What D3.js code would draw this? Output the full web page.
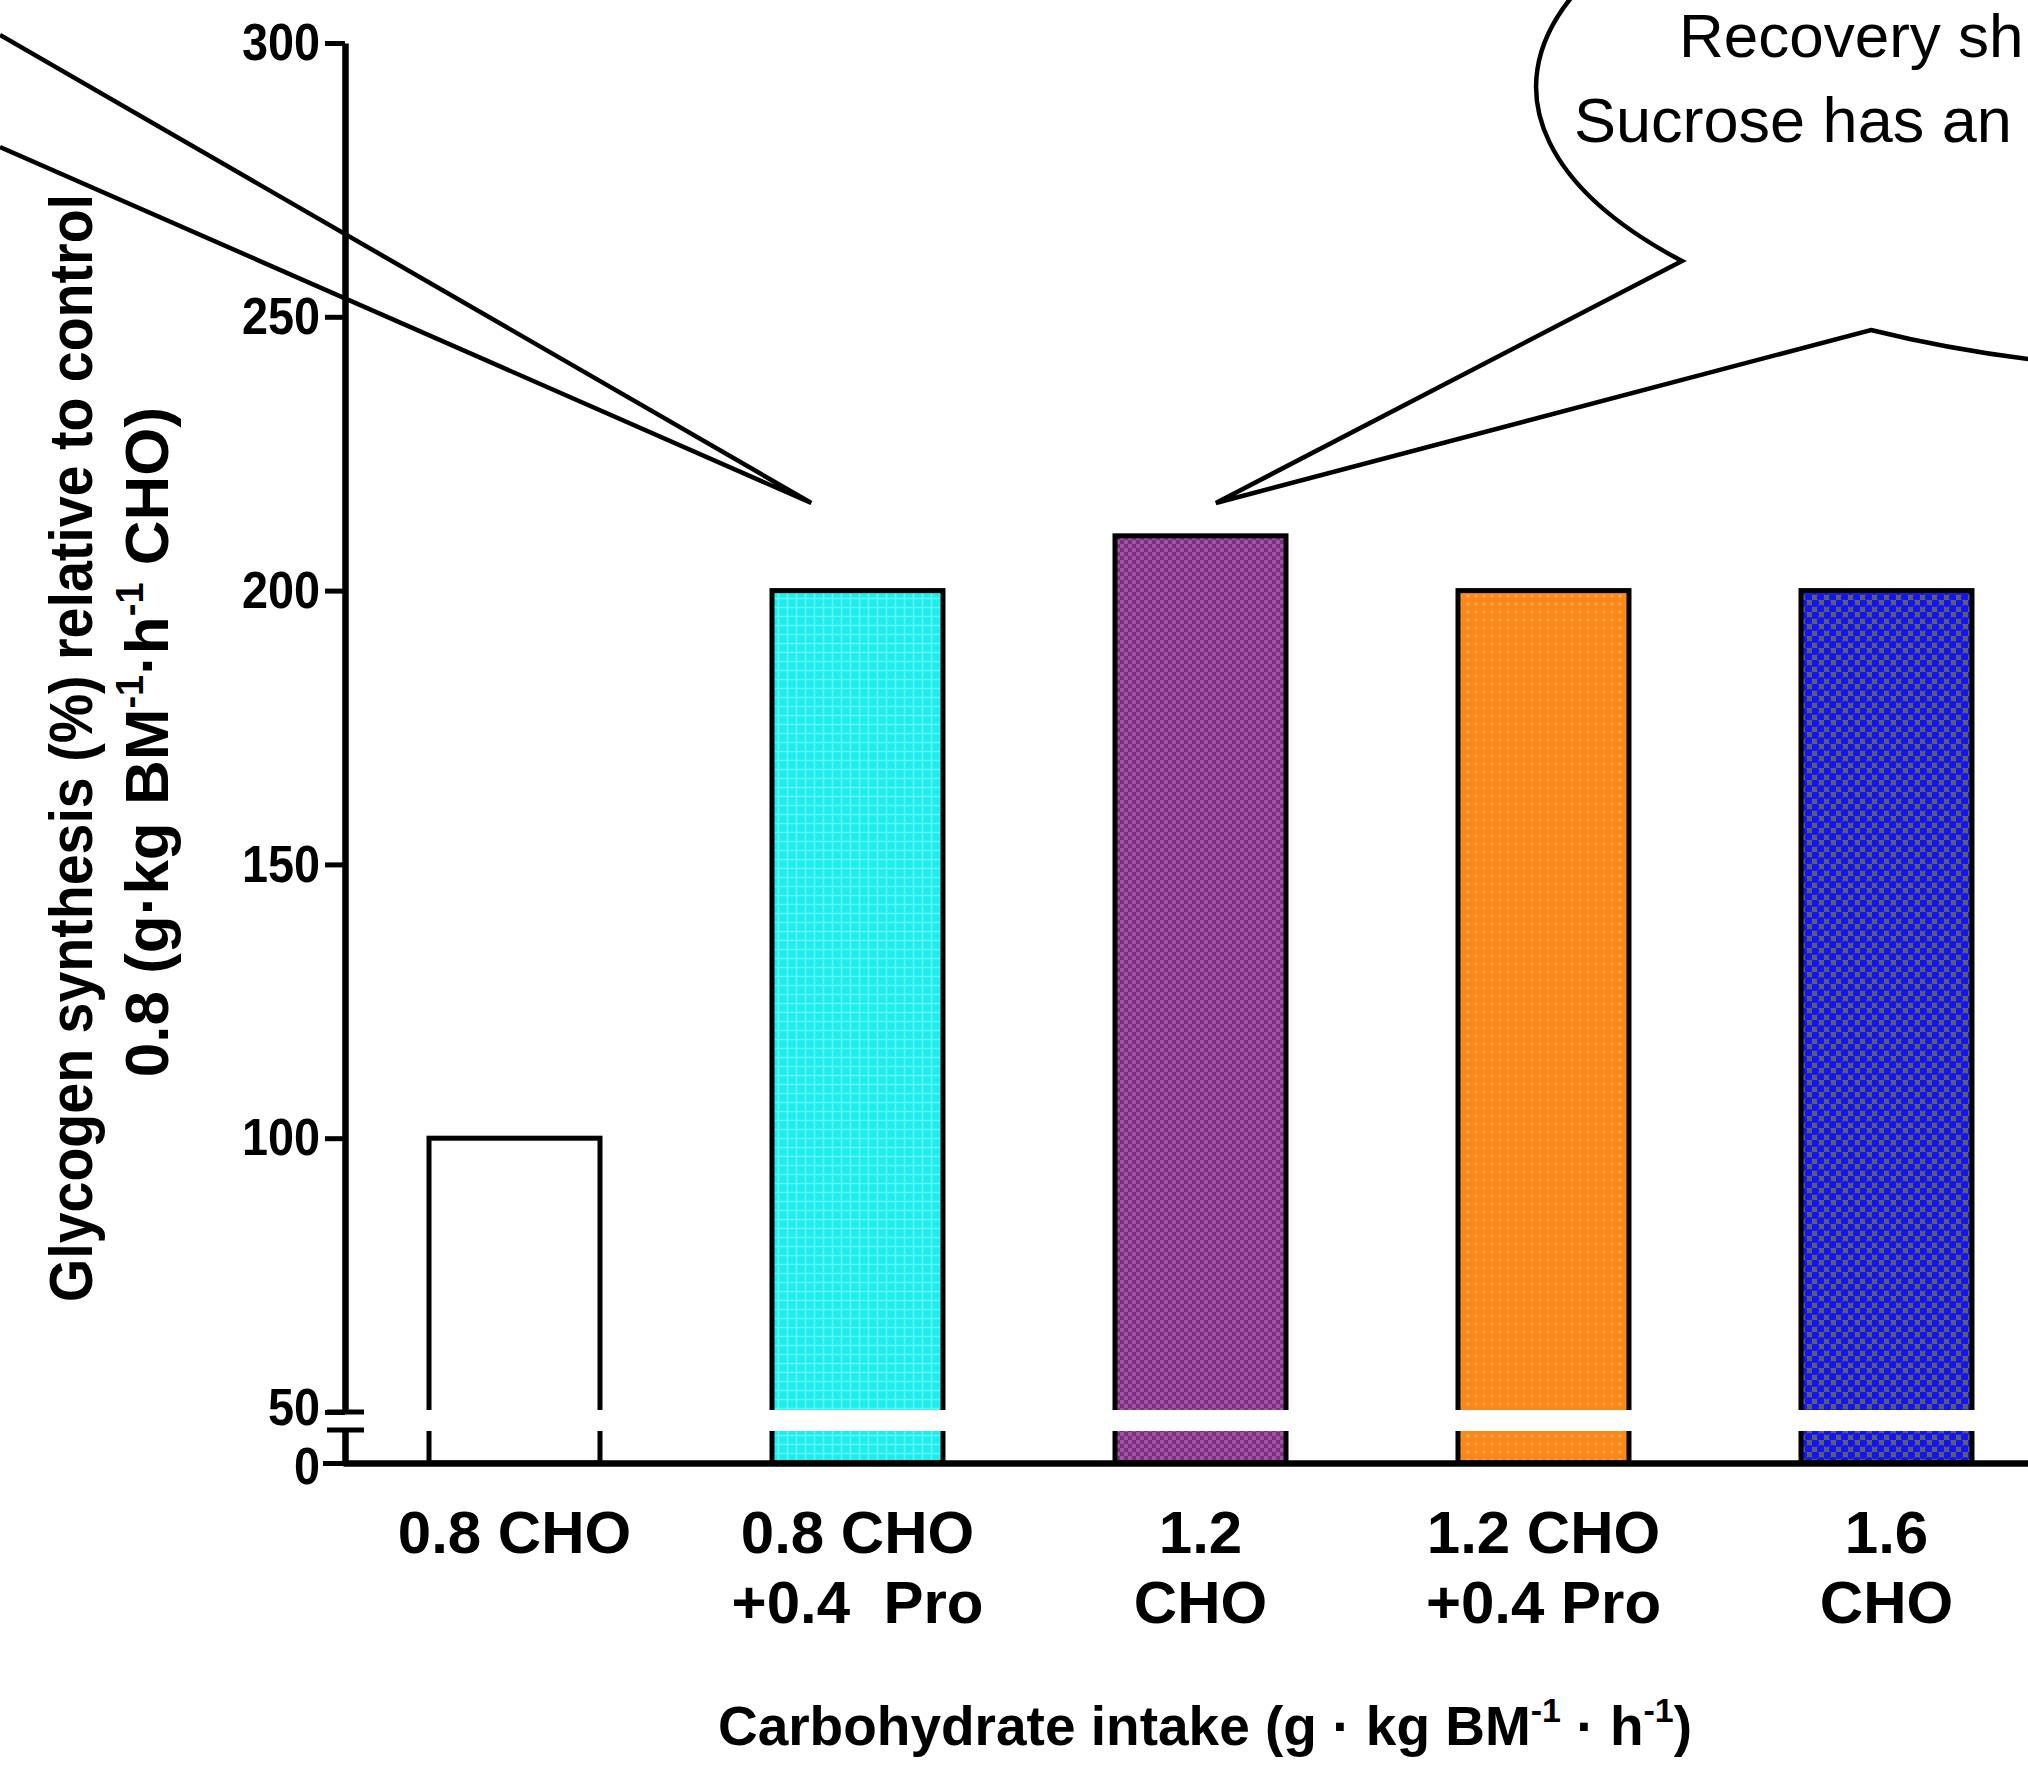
<!DOCTYPE html>
<html>
<head>
<meta charset="utf-8">
<script src="https://cdn.jsdelivr.net/npm/d3@7"></script>
<style>
  html, body { margin: 0; padding: 0; background: #ffffff; }
  svg { display: block; }
</style>
</head>
<body>
<script>
// ---------------- DATA ----------------
const categories = ["0.8 CHO", "0.8 CHO +0.4 Pro", "1.2 CHO", "1.2 CHO +0.4 Pro", "1.6 CHO"];
const labelLines = [["0.8 CHO"], ["0.8 CHO", "+0.4  Pro"], ["1.2", "CHO"], ["1.2 CHO", "+0.4 Pro"], ["1.6", "CHO"]];
const values = [100, 200, 210, 200, 200];
const upperTicks = [50, 100, 150, 200, 250, 300];
const lowerTicks = [0];
const barFills = ["#ffffff", "url(#pCyan)", "url(#pPurple)", "url(#pOrange)", "url(#pBlue)"];

// ---------------- LAYOUT ----------------
const W = 2028, H = 1766;
const FONT = "'Liberation Sans', Arial, Helvetica, sans-serif";
const axisX = 345;

const svg = d3.select("body").append("svg")
  .attr("width", W).attr("height", H)
  .attr("viewBox", `0 0 ${W} ${H}`);

// ---------------- PATTERNS ----------------
const defs = svg.append("defs");
(function () {
  const c = defs.append("pattern").attr("id", "pCyan").attr("patternUnits", "userSpaceOnUse")
    .attr("width", 9).attr("height", 9);
  c.append("rect").attr("width", 9).attr("height", 9).attr("fill", "#1deded");
  c.append("path").attr("d", "M0 4.5H9M4.5 0V9").attr("stroke", "#5ff6f6").attr("stroke-width", 1.6);

  const p = defs.append("pattern").attr("id", "pPurple").attr("patternUnits", "userSpaceOnUse")
    .attr("width", 8).attr("height", 8);
  p.append("rect").attr("width", 8).attr("height", 8).attr("fill", "#7a2f7c");
  p.append("circle").attr("cx", 2).attr("cy", 2).attr("r", 2.3).attr("fill", "#a253a5");
  p.append("circle").attr("cx", 6).attr("cy", 6).attr("r", 2.3).attr("fill", "#a253a5");

  const o = defs.append("pattern").attr("id", "pOrange").attr("patternUnits", "userSpaceOnUse")
    .attr("width", 8).attr("height", 8);
  o.append("rect").attr("width", 8).attr("height", 8).attr("fill", "#fb8818");
  o.append("circle").attr("cx", 4).attr("cy", 4).attr("r", 1.8).attr("fill", "#ffa64a");

  const b = defs.append("pattern").attr("id", "pBlue").attr("patternUnits", "userSpaceOnUse")
    .attr("width", 12).attr("height", 12);
  b.append("rect").attr("width", 12).attr("height", 12).attr("fill", "#5c5e6e");
  b.append("circle").attr("cx", 3).attr("cy", 3).attr("r", 4.1).attr("fill", "#1414f2");
  b.append("circle").attr("cx", 9).attr("cy", 9).attr("r", 4.1).attr("fill", "#1414f2");
})();

// ---------------- SCALES ----------------
const x = d3.scaleBand()
  .domain(categories)
  .range([343, 2058])
  .paddingInner(0.5015)
  .paddingOuter(0.5015 / 2);

const yUp = d3.scaleLinear().domain([50, 300]).range([1412, 43]);
const yLow = d3.scaleLinear().domain([0, 50]).range([1463, 1430]);
const yv = v => (v >= 50 ? yUp(v) : yLow(v));
const base = yLow(0);

// ---------------- ANNOTATIONS (behind) ----------------
const tipL = [x(categories[1]) + x.bandwidth() * 0.23, yUp(216)];
svg.append("path")
  .attr("d", `M0,35 L${tipL[0]},${tipL[1]} L0,147`)
  .attr("fill", "none").attr("stroke", "#000").attr("stroke-width", 4.5)
  .attr("stroke-linejoin", "miter");

const tipR = [x(categories[2]) + x.bandwidth() * 0.59, yUp(216)];
svg.append("path")
  .attr("d", `M1682,261 L${tipR[0]},${tipR[1]} L1871,330 A700,285 0 1 0 1682,261 Z`)
  .attr("fill", "#fff").attr("stroke", "#000").attr("stroke-width", 4.5)
  .attr("stroke-linejoin", "miter");

svg.append("text").attr("x", 1679).attr("y", 57)
  .attr("font-family", FONT).attr("font-size", 62).attr("fill", "#000")
  .text("Recovery sh");
svg.append("text").attr("x", 1574).attr("y", 142)
  .attr("font-family", FONT).attr("font-size", 63).attr("fill", "#000")
  .text("Sucrose has an");

// ---------------- BARS ----------------
const bars = svg.append("g");
bars.selectAll("rect.bar")
  .data(values)
  .join("rect")
  .attr("class", "bar")
  .attr("x", (d, i) => x(categories[i]))
  .attr("y", d => yv(d))
  .attr("width", x.bandwidth())
  .attr("height", d => base - yv(d))
  .attr("fill", (d, i) => barFills[i])
  .attr("stroke", "#000")
  .attr("stroke-width", 5);

// axis break gap across bars
bars.selectAll("rect.gap")
  .data(values)
  .join("rect")
  .attr("class", "gap")
  .attr("x", (d, i) => x(categories[i]) - 6)
  .attr("y", yUp(50) - 2)
  .attr("width", x.bandwidth() + 12)
  .attr("height", yLow(50) - yUp(50) + 3)
  .attr("fill", "#fff");

// ---------------- AXES ----------------
function styleAxis(g, shift) {
  g.attr("font-family", FONT).attr("font-size", 52).attr("font-weight", "bold");
  g.selectAll("path.domain").attr("stroke", "#000").attr("stroke-width", 6.5);
  g.selectAll(".tick line").attr("stroke", "#000").attr("stroke-width", 5);
  g.selectAll(".tick text").attr("fill", "#000")
    .attr("textLength", function () { return this.textContent.length * 26; })
    .attr("lengthAdjust", "spacingAndGlyphs")
    .attr("transform", d => `translate(0,${shift(d)})`);
}

svg.append("g")
  .attr("transform", `translate(${axisX},0)`)
  .call(d3.axisLeft(yUp).tickValues(upperTicks).tickSize(20).tickSizeOuter(0).tickPadding(5).tickFormat(d3.format("d")))
  .call(g => styleAxis(g, d => (d === 50 ? -4 : 0)));

svg.append("g")
  .attr("transform", `translate(${axisX},0)`)
  .call(d3.axisLeft(yLow).tickValues(lowerTicks).tickSize(22).tickSizeOuter(0).tickPadding(3).tickFormat(d3.format("d")))
  .call(g => styleAxis(g, d => 4));

// break marks on the y axis
svg.append("g").selectAll("line")
  .data([yUp(50), yLow(50)])
  .join("line")
  .attr("x1", axisX - 18).attr("x2", axisX + 19)
  .attr("y1", d => d).attr("y2", d => d)
  .attr("stroke", "#000").attr("stroke-width", 5);

// baseline (x axis)
svg.append("g")
  .attr("transform", `translate(0,${base})`)
  .call(d3.axisBottom(x).tickSize(0).tickSizeOuter(0).tickFormat(""))
  .call(g => g.selectAll("path.domain").attr("stroke", "#000").attr("stroke-width", 6.5));

// category labels
const lab = svg.append("g")
  .attr("font-family", FONT).attr("font-size", 60).attr("font-weight", "bold")
  .attr("text-anchor", "middle").attr("fill", "#000");
categories.forEach((c, i) => {
  const cx = x(c) + x.bandwidth() / 2;
  labelLines[i].forEach((ln, j) => {
    lab.append("text").attr("x", cx).attr("y", 1553 + j * 70)
      .style("white-space", "pre").text(ln);
  });
});

// x axis title
const xt = svg.append("text")
  .attr("x", 1205).attr("y", 1745)
  .attr("font-family", FONT).attr("font-size", 55).attr("font-weight", "bold")
  .attr("text-anchor", "middle").attr("fill", "#000");
xt.append("tspan").text("Carbohydrate intake (g \u00B7 kg BM");
xt.append("tspan").attr("font-size", 34).attr("dy", -23).text("-1");
xt.append("tspan").attr("dy", 23).text(" \u00B7 h");
xt.append("tspan").attr("font-size", 34).attr("dy", -23).text("-1");
xt.append("tspan").attr("dy", 23).text(")");

// y axis title
svg.append("text")
  .attr("transform", "translate(92,748) rotate(-90)")
  .attr("font-family", FONT).attr("font-size", 62).attr("font-weight", "bold")
  .attr("text-anchor", "middle").attr("fill", "#000")
  .attr("textLength", 1108).attr("lengthAdjust", "spacingAndGlyphs")
  .text("Glycogen synthesis (%) relative to control");

const yt2 = svg.append("text")
  .attr("transform", "translate(168,742) rotate(-90)")
  .attr("font-family", FONT).attr("font-size", 62).attr("font-weight", "bold")
  .attr("text-anchor", "middle").attr("fill", "#000");
yt2.append("tspan").text("0.8 (g\u00B7kg BM");
yt2.append("tspan").attr("font-size", 38).attr("dy", -25).text("-1");
yt2.append("tspan").attr("dy", 25).text("\u00B7h");
yt2.append("tspan").attr("font-size", 38).attr("dy", -25).text("-1");
yt2.append("tspan").attr("dy", 25).text(" CHO)");
</script>
</body>
</html>
